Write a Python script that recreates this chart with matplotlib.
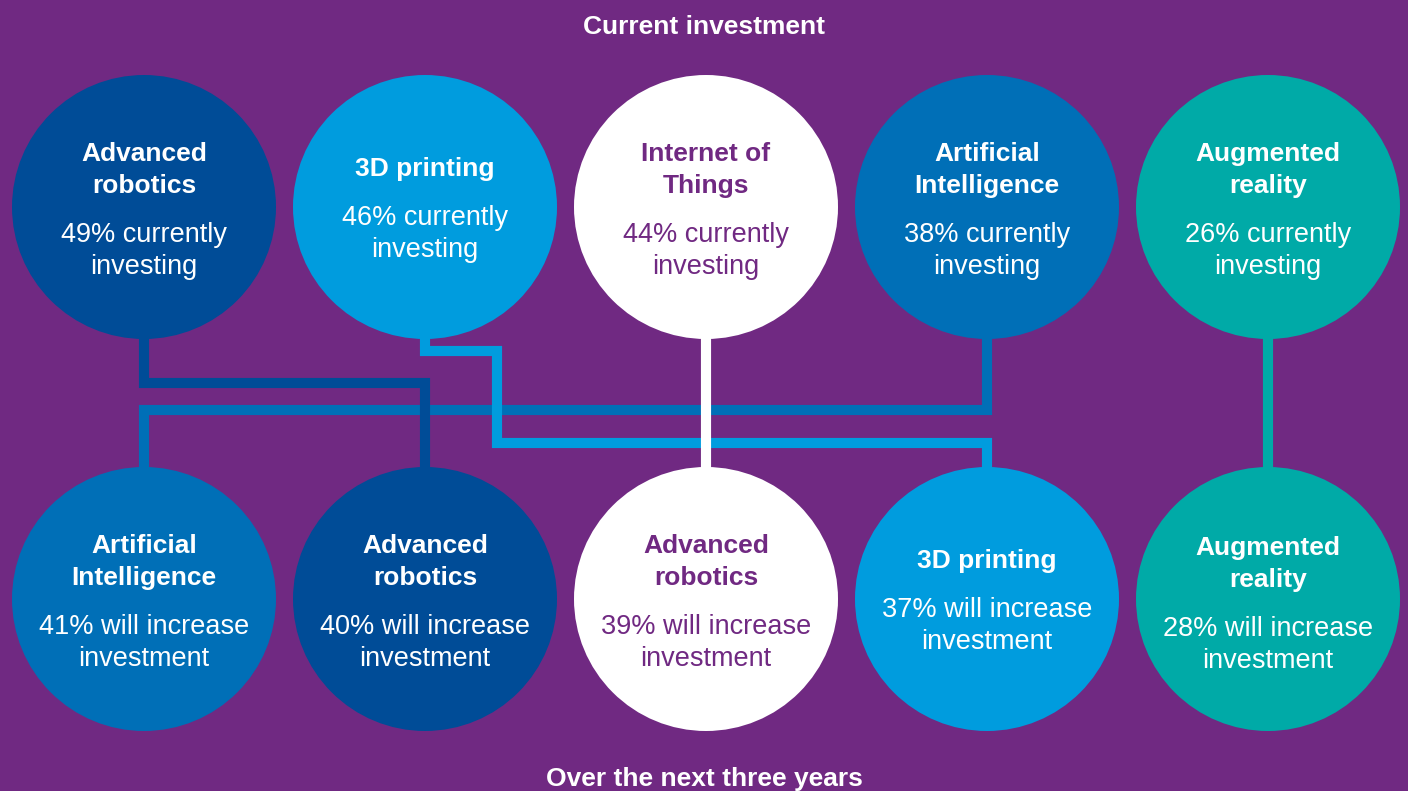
import matplotlib.pyplot as plt
from matplotlib.patches import Circle

# colours
bg = '#702982'
dark_blue = '#004c97'
mid_blue = '#006fb7'
light_blue = '#009cde'
teal = '#00aaa7'
white = '#ffffff'

# top row: current investment
top_names = ['Advanced\nrobotics', '3D printing', 'Internet of\nThings', 'Artificial\nIntelligence', 'Augmented\nreality']
top_values = [49, 46, 44, 38, 26]
top_colors = [dark_blue, light_blue, white, mid_blue, teal]

# bottom row: over the next three years
bottom_names = ['Artificial\nIntelligence', 'Advanced\nrobotics', 'Advanced\nrobotics', '3D printing', 'Augmented\nreality']
bottom_values = [41, 40, 39, 37, 28]
bottom_colors = [mid_blue, dark_blue, white, light_blue, teal]

W, H = 1408, 791
fig = plt.figure(figsize=(W / 100, H / 100), dpi=100)
fig.patch.set_facecolor(bg)
ax = fig.add_axes([0, 0, 1, 1])
ax.set_xlim(0, W)
ax.set_ylim(H, 0)
ax.set_facecolor(bg)
ax.axis('off')

xs = [144 + 281 * i for i in range(5)]
top_y = 207
bot_y = 599
r = 132
lw = 7.3

def conn(pts, color):
    ax.plot([p[0] for p in pts], [p[1] for p in pts], color=color, lw=lw,
            solid_joinstyle='miter', solid_capstyle='butt', zorder=1)

# connectors (drawn under circles)
conn([(xs[3], top_y), (xs[3], 410), (xs[0], 410), (xs[0], bot_y)], mid_blue)
conn([(xs[0], top_y), (xs[0], 383), (xs[1], 383), (xs[1], bot_y)], dark_blue)
conn([(xs[1], top_y), (xs[1], 351), (497, 351), (497, 443), (xs[3], 443), (xs[3], bot_y)], light_blue)
conn([(xs[2], top_y), (xs[2], bot_y)], white)
conn([(xs[4], top_y), (xs[4], bot_y)], teal)

def bubble(x, y, name, line2, color, dy=0):
    ax.add_patch(Circle((x, y), r, facecolor=color, edgecolor='none', zorder=3))
    tc = bg if color == white else 'white'
    if '\n' in name:
        ny, vy = y - 37, y + 44
    else:
        ny, vy = y - 38, y + 27
    ax.text(x, ny + dy, name, ha='center', va='center', color=tc, fontsize=19,
            fontweight='bold', family='Liberation Sans', linespacing=1.4, zorder=4)
    ax.text(x, vy + dy, line2, ha='center', va='center', color=tc, fontsize=19.5,
            family='Liberation Sans', linespacing=1.33, zorder=4)

for i in range(5):
    bubble(xs[i], top_y, top_names[i], '%d%% currently\ninvesting' % top_values[i], top_colors[i])
    bubble(xs[i], bot_y, bottom_names[i], '%d%% will increase\ninvestment' % bottom_values[i],
           bottom_colors[i], dy=2 if i == 4 else 0)

ax.text(W / 2, 27, 'Current investment', ha='center', va='center', color='white',
        fontsize=19, fontweight='bold', family='Liberation Sans')
ax.text(W / 2, 779, 'Over the next three years', ha='center', va='center', color='white',
        fontsize=19, fontweight='bold', family='Liberation Sans')

fig.savefig('out.png', dpi=100, facecolor=bg)
